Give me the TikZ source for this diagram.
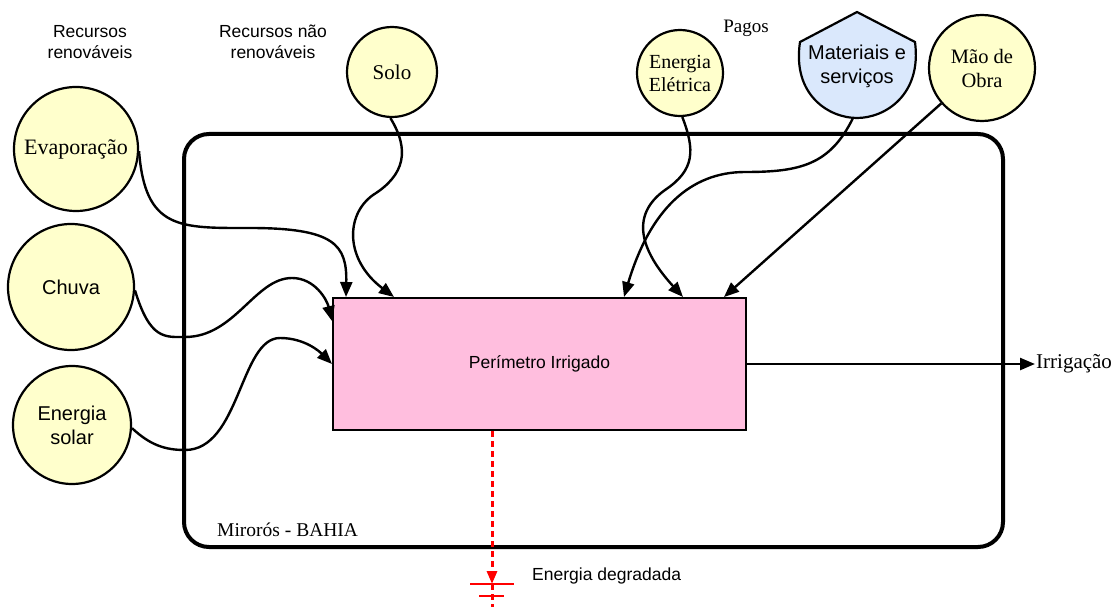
\documentclass[tikz,border=0pt]{standalone}
\usepackage{fontspec}
\setmainfont{Liberation Serif}
\setsansfont{Liberation Sans}
\usetikzlibrary{arrows.meta}
\definecolor{resyellow}{RGB}{255,255,204}
\definecolor{procpink}{RGB}{255,190,222}
\definecolor{matblue}{RGB}{218,232,252}

\tikzset{
  fonte/.style={circle, draw, line width=2.2pt, fill=resyellow, align=center, inner sep=0pt},
  fserif/.style={font=\rmfamily\fontsize{21}{24}\selectfont},
  fsans/.style={font=\sffamily\fontsize{20}{24}\selectfont},
  fluxo/.style={line width=2.4pt, -{Triangle[length=15pt,width=12pt]}},
  rotulo/.style={align=center, inner sep=1pt}
}

\begin{document}
\begin{tikzpicture}[x=1pt, y=-1pt]
	\useasboundingbox (0,0) rectangle (1117,607);

	% sistema
	\draw[line width=4pt, rounded corners=25] (184,134) rectangle (1003,547);
	\node[rotulo, anchor=west, font=\rmfamily\fontsize{19.5}{22}\selectfont] (local) at (216,530) {Mirorós - BAHIA};

	% fontes
	\node[fonte, font=\rmfamily\fontsize{22}{24}\selectfont, minimum size=124] (evap) at (76,149) {Evaporação};
	\node[fonte, fsans, minimum size=126] (chuva) at (71,287) {Chuva};
	\node[fonte, fsans, minimum size=118] (solar) at (72,425) {Energia\\solar};
	\node[fonte, fserif, minimum size=90] (solo) at (392,72) {Solo};
	\node[fonte, font=\rmfamily\fontsize{20}{23}\selectfont, minimum size=86] (eletr) at (680,73) {Energia\\Elétrica};
	\node[fonte, font=\rmfamily\fontsize{20.5}{24}\selectfont, minimum size=106] (mao) at (982,68) {Mão de\\Obra};

	% materiais e servicos
	\draw[line width=2.2pt, fill=matblue] (800,42) -- (857,12) -- (915,42)
		.. controls (922,95) and (885,118) .. (857,118)
		.. controls (829,118) and (792,95) .. (800,42) -- cycle;
	\node[rotulo, fsans] (mat) at (857,66) {Materiais e\\serviços};
	\coordinate (matb) at (853,118);

	% titulos
	\node[rotulo, font=\sffamily\fontsize{17.5}{21}\selectfont] (renov) at (90,42) {Recursos\\renováveis};
	\node[rotulo, font=\sffamily\fontsize{17.5}{21}\selectfont] (naorenov) at (273,42) {Recursos não\\renováveis};
	\node[rotulo, font=\rmfamily\fontsize{19}{22}\selectfont] (pagos) at (746,28) {Pagos};

	% processo
	\node[draw, line width=2pt, fill=procpink, minimum width=413, minimum height=132,
		font=\sffamily\fontsize{17.5}{20}\selectfont] (irr) at (539.5,364) {Perímetro Irrigado};

	\draw[fluxo] (evap.-2) .. controls (145,230) and (180,228) .. (250,228)
		.. controls (335,228) and (347,245) .. ([xshift=14pt]irr.north west);
	\draw[fluxo] (chuva.-3) .. controls (150,340) and (165,337) .. (185,337)
		.. controls (235,337) and (255,278) .. (292,278)
		.. controls (315,278) and (327,300) .. ([yshift=-24pt]irr.north west);
	\draw[fluxo] (solar.-3) .. controls (150,445) and (165,450) .. (185,450)
		.. controls (240,450) and (240,338) .. (280,338)
		.. controls (305,338) and (320,352) .. (irr.west);
	\draw[fluxo] (solo.-92) .. controls (410,150) and (405,175) .. (373,195)
		.. controls (345,215) and (345,260) .. ([xshift=62pt]irr.north west);
	\draw[fluxo] (eletr.-87) .. controls (695,150) and (695,170) .. (665,190)
		.. controls (630,215) and (640,250) .. ([xshift=351pt]irr.north west);
	\draw[fluxo] (matb) .. controls (830,165) and (800,172) .. (745,172)
		.. controls (690,172) and (650,210) .. ([xshift=292pt]irr.north west);
	\draw[fluxo] (mao.-139) -- ([xshift=392pt]irr.north west);

	% saida
	\node[rotulo, anchor=west, font=\rmfamily\fontsize{21}{24}\selectfont] (irrig) at (1035,364) {Irrigação};
	\draw[fluxo] (irr.east) -- (irrig.west);

	% energia degradada
	\coordinate (gnd) at (492,584);
	\draw[red, line width=3pt, dash pattern=on 6pt off 4pt, -{Triangle[length=13pt,width=10pt]}]
		([xshift=-47.5pt]irr.south) -- (gnd);
	\draw[red, line width=2pt] ([xshift=-22pt]gnd) -- ([xshift=22pt]gnd);
	\draw[red, line width=2pt] ([xshift=-13pt,yshift=-12pt]gnd) -- ([xshift=12pt,yshift=-12pt]gnd);
	\draw[red, line width=3pt, dash pattern=on 6pt off 4pt] (gnd) -- ([yshift=-23pt]gnd);
	\node[rotulo, anchor=west, font=\sffamily\fontsize{17.5}{20}\selectfont] (degr) at (531,576) {Energia degradada};
\end{tikzpicture}
\end{document}
